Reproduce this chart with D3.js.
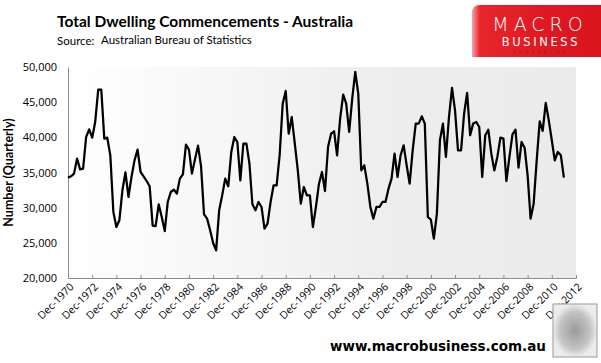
<!DOCTYPE html>
<html>
<head>
<meta charset="utf-8">
<script src="https://cdn.jsdelivr.net/npm/d3@7"></script>
<style>
  body { margin: 0; background: #fff; }
  svg { display: block; font-family: "Lato", "Open Sans", sans-serif; }
</style>
</head>
<body>
<div id="chart"></div>
<script>
// quarterly dwelling commencements, first quarter Dec-1970
var startQuarter = "Dec-1970";
var commencements = [
  34270, 34460, 34840, 36970, 35450, 35550, 40050, 41140, 39950, 42180,
  46780, 46780, 39810, 39950, 37440, 29390, 27250, 28200, 32470, 35030,
  31520, 34360, 36730, 38250, 35070, 34460, 33790, 33040, 27440, 27390,
  30480, 28670, 26680, 30810, 32230, 32560, 31990, 34130, 34740, 38960,
  38250, 34840, 36870, 38820, 35880, 29050, 28440, 26780, 24980, 23930,
  29620, 31760, 34130, 33040, 37920, 40050, 39340, 33890, 39100, 39100,
  36260, 30480, 29620, 30810, 30100, 27020, 27730, 30810, 33180, 33180,
  37500, 44790, 46590, 40520, 42890, 39100, 35310, 30570, 32940, 31760,
  31760, 27250, 30100, 33410, 35070, 32370, 38630, 40520, 40860, 37440,
  42660, 46070, 44790, 40760, 45500, 49290, 46210, 35310, 36020, 33410,
  30100, 28440, 30100, 30100, 30810, 30810, 32700, 34130, 37680, 34360,
  37440, 38870, 36020, 33410, 38150, 41950, 41950, 42990, 41950, 28670,
  28300, 25590, 29150, 39580, 41950, 37210, 42890, 47020, 43840, 38150,
  38150, 43370, 46310, 40290, 41950, 42180, 41470, 34360, 40290, 41090,
  37680, 35300, 37210, 39960, 39810, 33790, 37210, 40430, 41090, 35690,
  39340, 38530, 34600, 28440, 30570, 36730, 42280, 40900, 44890, 42420,
  39580, 36730, 37920, 37440, 34270
];
var xTickLabels = ["Dec-1970","Dec-1972","Dec-1974","Dec-1976","Dec-1978","Dec-1980",
  "Dec-1982","Dec-1984","Dec-1986","Dec-1988","Dec-1990","Dec-1992","Dec-1994",
  "Dec-1996","Dec-1998","Dec-2000","Dec-2002","Dec-2004","Dec-2006","Dec-2008",
  "Dec-2010","Dec-2012"];
var yTicks = [20000, 25000, 30000, 35000, 40000, 45000, 50000];

var titleText = "Total Dwelling Commencements - Australia";
var sourceLabel = "Source:";
var sourceText = "Australian Bureau of Statistics";
var yTitle = "Number (Quarterly)";
var siteText = "www.macrobusiness.com.au";

var W = 601, H = 363;
var margin = {top: 67, right: 25, bottom: 85, left: 68};
var width = W - margin.left - margin.right,
    height = H - margin.top - margin.bottom;

var parseQ = d3.timeParse("%b-%Y");
var start = parseQ(startQuarter);
var data = commencements.map(function(v, i) {
  return {date: d3.timeMonth.offset(start, 3 * i), value: v};
});
var tickDates = xTickLabels.map(function(s) { return parseQ(s); });

var svg = d3.select("#chart").append("svg")
    .attr("width", W).attr("height", H);

var defs = svg.append("defs");
var bg = defs.append("linearGradient").attr("id", "plotbg")
    .attr("x1", "0").attr("x2", "1").attr("y1", "0").attr("y2", "0");
bg.append("stop").attr("offset", "0").attr("stop-color", "#ffffff");
bg.append("stop").attr("offset", "0.6").attr("stop-color", "#eeeeee");
bg.append("stop").attr("offset", "1").attr("stop-color", "#ebebeb");

var red = defs.append("linearGradient").attr("id", "logored")
    .attr("x1", "0").attr("x2", "1").attr("y1", "0").attr("y2", "0");
red.append("stop").attr("offset", "0").attr("stop-color", "#f6a2a4");
red.append("stop").attr("offset", "0.06").attr("stop-color", "#e8262d");
red.append("stop").attr("offset", "0.5").attr("stop-color", "#e01a22");
red.append("stop").attr("offset", "1").attr("stop-color", "#d9141c");

var wolf = defs.append("radialGradient").attr("id", "wolf");
wolf.append("stop").attr("offset", "0").attr("stop-color", "#9a9a9a");
wolf.append("stop").attr("offset", "0.7").attr("stop-color", "#c4c4c4");
wolf.append("stop").attr("offset", "1").attr("stop-color", "#ececec");

// header
svg.append("text").attr("x", 57).attr("y", 27)
    .style("font-size", "15.5px").style("font-weight", "bold").style("fill", "#000")
    .text(titleText);
svg.append("text").attr("x", 57).attr("y", 45)
    .style("font-size", "11.5px").style("fill", "#000")
    .text(sourceLabel);
svg.append("text").attr("x", 101).attr("y", 44)
    .style("font-size", "11.5px").style("fill", "#000")
    .text(sourceText);

// logo box
var logo = svg.append("g");
logo.append("path")
    .attr("d", "M472,13 Q472,5 480,5 L601,5 L601,57 L472,57 Z")
    .attr("fill", "url(#logored)");
logo.append("text").attr("x", 540).attr("y", 31).attr("text-anchor", "middle")
    .style("font-size", "19px").style("letter-spacing", "5px").style("fill", "#fff")
    .style("font-family", "'DejaVu Sans', sans-serif").style("font-weight", "300")
    .text("MACRO");
logo.append("text").attr("x", 541).attr("y", 46).attr("text-anchor", "middle")
    .style("font-size", "11.5px").style("letter-spacing", "2.6px").style("fill", "#fff")
    .style("font-family", "'DejaVu Sans', sans-serif")
    .text("BUSINESS");
logo.append("text").attr("x", 541).attr("y", 54).attr("text-anchor", "middle")
    .style("font-size", "5px").style("letter-spacing", "3px").style("fill", "#b5141b")
    .text("SUPERBLOG");

var g = svg.append("g")
    .attr("transform", "translate(" + margin.left + "," + margin.top + ")");

var x = d3.scaleTime()
    .domain([tickDates[0], tickDates[tickDates.length - 1]])
    .range([0, width]);
var y = d3.scaleLinear()
    .domain([yTicks[0], yTicks[yTicks.length - 1]])
    .range([height, 0]);

g.append("rect").attr("width", width).attr("height", height)
    .attr("fill", "url(#plotbg)");

// y axis
var yAxis = g.append("g").attr("class", "y axis")
    .call(d3.axisLeft(y).tickValues(yTicks).tickSize(0).tickPadding(11)
      .tickFormat(d3.format(",")));
yAxis.select(".domain").attr("stroke", "#8c8c8c");
yAxis.selectAll("text").style("font-size", "11px").style("fill", "#000")
    .style("font-family", "'Open Sans', sans-serif");

// x axis
var xAxis = g.append("g").attr("class", "x axis")
    .attr("transform", "translate(0," + height + ")")
    .call(d3.axisTop(x).tickValues(tickDates).tickSize(3).tickFormat(""));
xAxis.select(".domain").attr("stroke", "#8c8c8c");
xAxis.selectAll(".tick line").attr("stroke", "#8c8c8c");

g.append("g").selectAll("text").data(tickDates).enter().append("text")
    .attr("transform", function(d) {
      return "translate(" + (x(d) + 4) + "," + (height + 7) + ") rotate(-45)";
    })
    .attr("text-anchor", "end").attr("dy", "0.35em")
    .style("font-size", "10.5px").style("font-family", "'Open Sans', sans-serif")
    .text(function(d, i) { return xTickLabels[i]; });

g.append("text")
    .attr("transform", "translate(" + (-55) + "," + (height / 2) + ") rotate(-90)")
    .attr("text-anchor", "middle")
    .style("font-size", "12.5px").style("font-weight", "bold")
    .text(yTitle);

var line = d3.line()
    .x(function(d) { return x(d.date); })
    .y(function(d) { return y(d.value); });

g.append("path").datum(data)
    .attr("fill", "none").attr("stroke", "#000").attr("stroke-width", 2.25)
    .attr("stroke-linejoin", "round")
    .attr("d", line);

// footer
svg.append("text").attr("x", 330).attr("y", 351)
    .style("font-size", "13.5px").style("font-weight", "bold")
    .style("font-family", "'DejaVu Sans', sans-serif")
    .text(siteText);
svg.append("rect").attr("x", 553).attr("y", 304).attr("width", 44).attr("height", 53)
    .attr("fill", "url(#wolf)").attr("stroke", "#9a9a9a");
</script>
</body>
</html>
